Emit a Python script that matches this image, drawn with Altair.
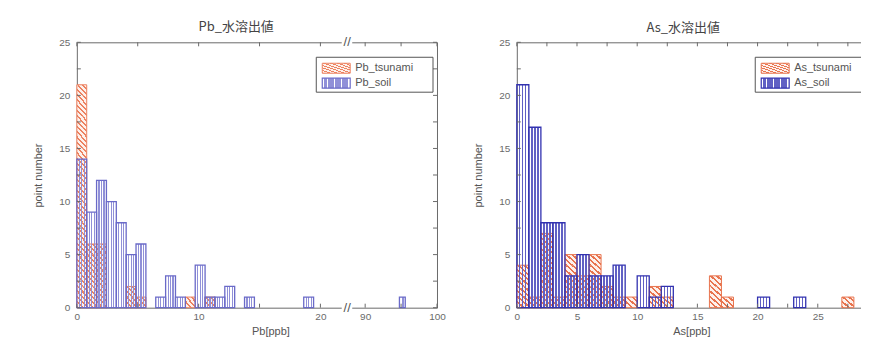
import altair as alt
import pandas as pd

# ---------------- data ----------------
pb_title = "Pb_水溶出値"
pb_xlabel = "Pb[ppb]"
pb_names = ["Pb_tsunami", "Pb_soil"]
pb_bin_width = 0.81
pb_bin_index = [0, 1, 2, 3, 4, 5, 6, 8, 9, 10, 11, 12, 13, 14, 15, 17, 23, 117]
pb_soil =      [14, 9, 12, 10, 8, 5, 6, 1, 3, 1, 0, 4, 1, 1, 2, 1, 1, 1]
pb_tsunami =   [21, 6, 6, 0, 0, 2, 1, 0, 0, 0, 1, 0, 1, 0, 0, 0, 0, 0]
pb_xticks = [0, 10, 20, 90, 100]
pb_xminor = [0, 5, 10, 15, 20, 90, 95, 100]
pb_break = [22.2, 87.5]

as_title = "As_水溶出値"
as_xlabel = "As[ppb]"
as_names = ["As_tsunami", "As_soil"]
as_bin_width = 1.0
as_bin_index = [0, 1, 2, 3, 4, 5, 6, 7, 8, 9, 10, 11, 12, 16, 17, 20, 23, 27]
as_soil =      [21, 17, 8, 8, 3, 5, 3, 3, 4, 0, 3, 1, 2, 0, 0, 1, 1, 0]
as_tsunami =   [4, 1, 7, 1, 5, 3, 5, 2, 1, 1, 0, 2, 1, 3, 1, 0, 0, 1]
as_xticks = [0, 5, 10, 15, 20, 25]
as_xminor = [0, 2.5, 5, 7.5, 10, 12.5, 15, 17.5, 20, 22.5, 25, 27.5]

y_ticks = [0, 5, 10, 15, 20, 25]
y_minor = [0, 2.5, 5, 7.5, 10, 12.5, 15, 17.5, 20, 22.5, 25]
y_title = "point number"

FONT = "Liberation Sans"
CJK = "Noto Sans CJK JP"
AXC = "#6a6a6a"
H = 266


def diag_grad(line, bg, n=4, frac=0.4):
    stops = []
    for i in range(n):
        a, b, c = i / n, (i + frac) / n, (i + 1) / n
        stops += [alt.GradientStop(offset=a, color=line), alt.GradientStop(offset=b, color=line),
                  alt.GradientStop(offset=b, color=bg), alt.GradientStop(offset=c, color=bg)]
    return alt.LinearGradient(gradient="linear", stops=stops, x1=0, y1=1, x2=1, y2=0)


def vert_grad(line, n=4, frac=0.11):
    bg = "rgba(255,255,255,0)"
    stops = [alt.GradientStop(offset=0, color=bg)]
    for i in range(1, n):
        a, b = i / n - frac / 2, i / n + frac / 2
        stops += [alt.GradientStop(offset=a, color=bg), alt.GradientStop(offset=a, color=line),
                  alt.GradientStop(offset=b, color=line), alt.GradientStop(offset=b, color=bg)]
    stops.append(alt.GradientStop(offset=1, color=bg))
    return alt.LinearGradient(gradient="linear", stops=stops, x1=0, y1=0, x2=1, y2=0)


def panel(title, title_dx, xlabel, xtitle_x, names, idx, w, tsu, soil, xscale, W,
          xticks, xminor, orange, blue, blue_in, legend_x, legend_w, breaks=None, box_right=True):
    yscale = alt.Scale(domain=[0, 25], nice=False, zero=False)
    seg = pd.DataFrame([{"x0": k * w, "x1": (k + 1) * w, "y0": j, "y1": j + 1}
                        for k, n in zip(idx, tsu) for j in range(n)])
    bt = pd.DataFrame([{"x0": k * w, "x1": (k + 1) * w, "n": n} for k, n in zip(idx, tsu) if n > 0])
    bs = pd.DataFrame([{"x0": k * w, "x1": (k + 1) * w, "n": n} for k, n in zip(idx, soil) if n > 0])

    xaxis = alt.Axis(values=xticks, ticks=False, domain=False, grid=False, labelPadding=4,
                     labelFlush=False, labelOverlap=False, labelFontSize=10, labelColor=AXC,
                     labelFont=FONT, title=xlabel, titleX=xtitle_x, titleY=18, titleBaseline="top",
                     titleFontSize=11, titleFontWeight="normal", titleColor="#555", titleFont=FONT)
    yaxis = alt.Axis(values=y_ticks, ticks=False, domain=False, grid=False, labelPadding=7,
                     labelFontSize=10, labelColor=AXC, labelFont=FONT, title=y_title,
                     titleX=-38, titleBaseline="middle", titleFontSize=11,
                     titleFontWeight="normal", titleColor="#555", titleFont=FONT)

    layers = []
    layers.append(alt.Chart(seg).mark_rect(fill=diag_grad(orange, "#fdf1ec"), strokeWidth=0).encode(
        x=alt.X("x0:Q", scale=xscale, axis=xaxis), x2="x1:Q",
        y=alt.Y("y0:Q", scale=yscale, axis=yaxis), y2="y1:Q"))
    layers.append(alt.Chart(bt).mark_rect(fill="transparent", stroke=orange, strokeWidth=1).encode(
        x=alt.X("x0:Q", scale=xscale), x2="x1:Q",
        y=alt.Y("n:Q", scale=yscale), y2=alt.datum(0)))
    layers.append(alt.Chart(bs).mark_rect(fill=vert_grad(blue_in), stroke=blue, strokeWidth=1.3).encode(
        x=alt.X("x0:Q", scale=xscale), x2="x1:Q",
        y=alt.Y("n:Q", scale=yscale), y2=alt.datum(0)))

    # inward ticks
    xt = pd.DataFrame({"v": xminor})
    yt = pd.DataFrame({"v": y_minor})
    layers.append(alt.Chart(xt).mark_rule(color=AXC, strokeWidth=1).encode(
        x=alt.X("v:Q", scale=xscale), y=alt.value(H), y2=alt.value(H - 4)))
    layers.append(alt.Chart(xt).mark_rule(color=AXC, strokeWidth=1).encode(
        x=alt.X("v:Q", scale=xscale), y=alt.value(0), y2=alt.value(4)))
    layers.append(alt.Chart(yt).mark_rule(color=AXC, strokeWidth=1).encode(
        y=alt.Y("v:Q", scale=yscale), x=alt.value(0), x2=alt.value(4)))
    if box_right:
        layers.append(alt.Chart(yt).mark_rule(color=AXC, strokeWidth=1).encode(
            y=alt.Y("v:Q", scale=yscale), x=alt.value(W), x2=alt.value(W - 4)))

    if breaks is not None:
        bk = pd.DataFrame({"a": [breaks[0] - 0.45], "b": [breaks[1] + 0.7], "m": [breaks[0]],
                           "t": ["//"]})
        for yy in (0, H):
            layers.append(alt.Chart(bk).mark_rect(fill="white").encode(
                x=alt.X("a:Q", scale=xscale), x2="b:Q", y=alt.value(yy - 3), y2=alt.value(yy + 3)))
            layers.append(alt.Chart(bk).mark_text(fontSize=13, color="#555", font=FONT).encode(
                x=alt.X("m:Q", scale=xscale), y=alt.value(yy), text="t:N"))

    # legend
    lg = pd.DataFrame({"label": names})
    lx = legend_x
    layers.append(alt.Chart(lg.head(1)).mark_rect(fill="white", stroke="#555", strokeWidth=1).encode(
        x=alt.value(lx), x2=alt.value(lx + legend_w), y=alt.value(15), y2=alt.value(50)))
    layers.append(alt.Chart(lg.head(1)).mark_rect(fill=diag_grad(orange, "#fdf1ec", n=8), stroke=orange,
                                                  strokeWidth=1).encode(
        x=alt.value(lx + 6), x2=alt.value(lx + 34), y=alt.value(21), y2=alt.value(31)))
    layers.append(alt.Chart(lg.tail(1)).mark_rect(fill=vert_grad(blue_in, n=8, frac=0.1), stroke=blue,
                                                  strokeWidth=1.2).encode(
        x=alt.value(lx + 6), x2=alt.value(lx + 34), y=alt.value(36), y2=alt.value(46)))
    layers.append(alt.Chart(lg.head(1)).mark_text(align="left", baseline="middle", fontSize=11,
                                                  color="#555", font=FONT).encode(
        x=alt.value(lx + 39), y=alt.value(26), text="label:N"))
    layers.append(alt.Chart(lg.tail(1)).mark_text(align="left", baseline="middle", fontSize=11,
                                                  color="#555", font=FONT).encode(
        x=alt.value(lx + 39), y=alt.value(41), text="label:N"))

    return alt.layer(*layers).properties(
        width=W, height=H,
        title=alt.TitleParams(title, anchor="start", frame="group", dx=title_dx, offset=2, fontSize=13,
                              fontWeight="normal", color="#444", font=CJK))


pb_scale = alt.Scale(domain=[0, pb_break[0], pb_break[1], 100], range=[0, 271, 271, 361], nice=False,
                     zero=False)
as_scale = alt.Scale(domain=[0, 30], nice=False, zero=False)

left = panel(pb_title, 122, pb_xlabel, 194, pb_names, pb_bin_index, pb_bin_width, pb_tsunami, pb_soil,
             pb_scale, 361, pb_xticks, pb_xminor, "#ec8260", "#6a6ac8", "#9090d8", 240, 117,
             breaks=pb_break)
right = panel(as_title, 130, as_xlabel, 175, as_names, as_bin_index, as_bin_width, as_tsunami, as_soil,
              as_scale, 362, as_xticks, as_xminor, "#e8744f", "#3232b0", "#6060c4", 239, 123,
              box_right=False)

chart = alt.hconcat(left, right, spacing=80, bounds="flush").properties(
    padding={"left": 24, "top": 12, "right": -18, "bottom": 0}
).configure_view(stroke=AXC, strokeWidth=1)

chart.save("out.html", embed_options={"renderer": "svg", "actions": False})
